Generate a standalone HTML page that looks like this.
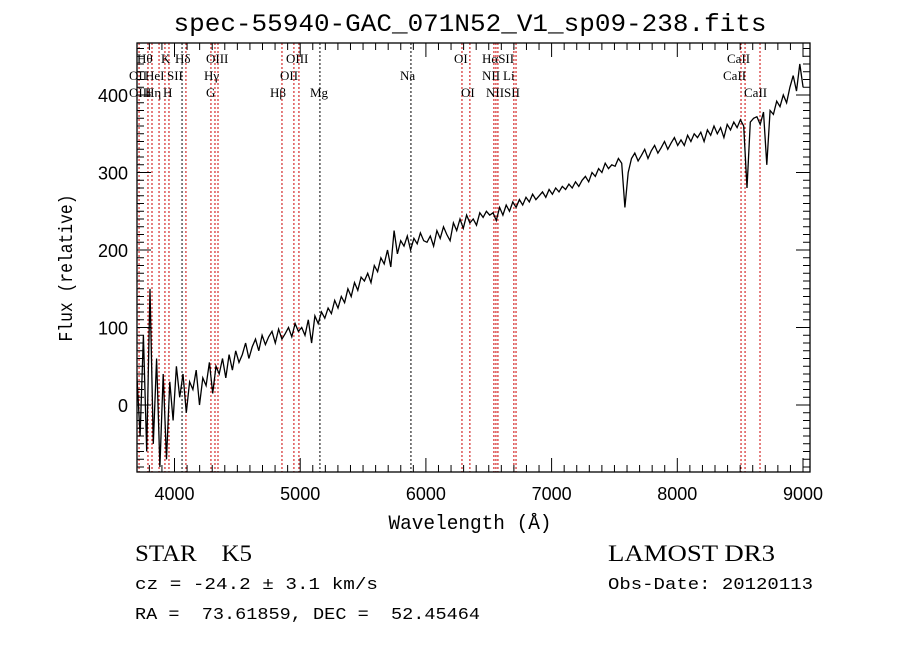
<!DOCTYPE html>
<html><head><meta charset="utf-8"><style>
html,body{margin:0;padding:0;background:#fff;width:900px;height:649px;overflow:hidden}
svg text{fill:#000;white-space:pre}
</style></head><body>
<svg id="chart" width="900" height="649" xmlns="http://www.w3.org/2000/svg">
<defs><clipPath id="clip"><rect x="137" y="43" width="673" height="429"/></clipPath></defs>
<text x="470" y="31" text-anchor="middle" font-family="Liberation Mono, monospace" font-size="25" textLength="593" lengthAdjust="spacingAndGlyphs">spec-55940-GAC_071N52_V1_sp09-238.fits</text>
<g id="lines" clip-path="url(#clip)"></g>
<g id="labels"></g>
<g id="series" clip-path="url(#clip)"></g>
<rect x="137" y="43" width="673" height="429" fill="none" stroke="#000" stroke-width="1.3"/>
<g id="axes"></g>
<text x="470" y="529" text-anchor="middle" font-family="Liberation Mono, monospace" font-size="20" textLength="163" lengthAdjust="spacingAndGlyphs">Wavelength (Å)</text>
<text transform="translate(72,268) rotate(-90)" text-anchor="middle" font-family="Liberation Mono, monospace" font-size="19" textLength="147" lengthAdjust="spacingAndGlyphs">Flux (relative)</text>
<text x="135" y="561" font-family="Liberation Serif, serif" font-size="23" textLength="117" lengthAdjust="spacingAndGlyphs">STAR    K5</text>
<text x="608" y="561" font-family="Liberation Serif, serif" font-size="23" textLength="167" lengthAdjust="spacingAndGlyphs">LAMOST DR3</text>
<text x="135" y="589" font-family="Liberation Mono, monospace" font-size="17" textLength="243" lengthAdjust="spacingAndGlyphs">cz = -24.2 ± 3.1 km/s</text>
<text x="608" y="589" font-family="Liberation Mono, monospace" font-size="17" textLength="205" lengthAdjust="spacingAndGlyphs">Obs-Date: 20120113</text>
<text x="135" y="619" font-family="Liberation Mono, monospace" font-size="17" textLength="345" lengthAdjust="spacingAndGlyphs">RA =  73.61859, DEC =  52.45464</text>
</svg>
<script>
const startWave = 3700;
const stepWave = 26.24;
const flux = [40,-40,90,-60,150,-50,60,-80,40,-70,30,-20,50,
10,40,-10,30,20,45,0,35,25,55,15,50,40,60,35,65,45,70,55,
65,80,60,75,85,70,90,78,88,95,80,98,85,92,100,88,105,95,100,
90,110,80,115,105,120,112,125,118,135,125,140,132,150,140,158,148,165,160,
170,158,180,172,190,182,200,178,225,195,212,205,218,200,215,208,222,212,210,
218,205,225,215,230,220,212,235,225,240,228,245,235,240,232,248,242,250,245,
248,238,255,245,258,250,262,255,265,258,268,262,272,265,270,275,268,278,272,
280,275,282,278,285,280,288,282,290,295,288,300,295,305,300,312,305,310,308,
318,312,255,300,318,325,315,322,330,318,328,335,325,332,340,330,338,345,335,
342,335,348,340,350,345,352,340,355,348,360,350,358,345,362,355,365,358,368,
360,280,365,370,372,362,378,310,380,375,392,385,400,390,410,425,405,440,410];
const lineWaves = [3718,3789,3821,3877,3924,3956,4060,4091,4290,4322,4346,4855,4950,4990,5157,5881,6287,6350,6541,6557,6573,6700,6717,8507,8539,8658];
const lineBlack = [0,0,0,0,0,0,1,0,0,0,0,0,0,0,1,1,0,0,0,0,0,0,0,0,0,0];
const labelText = ["Hθ","K","Hδ","OIII","OIII","OII","HeI","SII","Hγ","OII","OIII","Hη","H","G","Hβ","Mg","OI","HαSII","Na","NII","Li","OI","NIISII","CaII","CaII","CaII"];
const labelX = [137,161,175,206,286,129,145,167,204,280,129,145,163,206,270,310,454,482,400,482,503,461,486,727,723,744];
const labelRow = [1,1,1,1,1,2,2,2,2,2,3,3,3,3,3,3,1,1,2,2,2,3,3,1,2,3];
const xTicks = [4000,5000,6000,7000,8000,9000];
const yTicks = [0,100,200,300,400];

const NS = "http://www.w3.org/2000/svg";
const X0 = 137, X1 = 810, Y0 = 43, Y1 = 472;
function xs(w){ return 174.5 + (w - 4000) * 0.1257; }
function ys(f){ return 405 - f * 0.775; }
function mk(tag, attrs, parent){ const e = document.createElementNS(NS, tag); for (const k in attrs) e.setAttribute(k, attrs[k]); parent.appendChild(e); return e; }

const lg = document.getElementById('lines');
lineWaves.forEach((w,i)=>{
  const l = mk('line',{x1:xs(w),x2:xs(w),y1:Y0,y2:Y1,stroke:lineBlack[i]?'#000':'#c00','stroke-width':1,'stroke-dasharray':'2,2'},lg);
  
  
});
const lb = document.getElementById('labels');
labelText.forEach((t,i)=>{
  const e = mk('text',{x:labelX[i],y:[0,63,80,97][labelRow[i]],'font-family':'Liberation Serif, serif','font-size':13},lb);
  e.textContent = t;
  
  
});
const sg = document.getElementById('series');
const pts = flux.map((f,i)=>xs(startWave + i*stepWave).toFixed(1)+','+ys(f).toFixed(1)).join(' ');
const pl = mk('polyline',{points:pts,fill:'none',stroke:'#000','stroke-width':1.3},sg);



const ag = document.getElementById('axes');
for (let w = 3800; w <= 9000; w += 100){
  const major = w % 1000 === 0;
  const len = major ? 14 : 7;
  mk('line',{x1:xs(w),x2:xs(w),y1:Y1,y2:Y1-len,stroke:'#000'},ag);
  mk('line',{x1:xs(w),x2:xs(w),y1:Y0,y2:Y0+len,stroke:'#000'},ag);
}
for (let f = -80; f <= 460; f += 10){
  const major = f % 100 === 0;
  const len = major ? 14 : 7;
  mk('line',{x1:X0,x2:X0+len,y1:ys(f),y2:ys(f),stroke:'#000'},ag);
  mk('line',{x1:X1,x2:X1-len,y1:ys(f),y2:ys(f),stroke:'#000'},ag);
}
xTicks.forEach(w=>{
  const t = mk('text',{x:xs(w),y:500,'text-anchor':'middle','font-family':'Liberation Sans, sans-serif','font-size':18},ag);
  t.textContent = w;
  
  
});
yTicks.forEach(f=>{
  const t = mk('text',{x:128,y:ys(f)+7,'text-anchor':'end','font-family':'Liberation Sans, sans-serif','font-size':18},ag);
  t.textContent = f;
  
  
});
</script>
</body></html>
